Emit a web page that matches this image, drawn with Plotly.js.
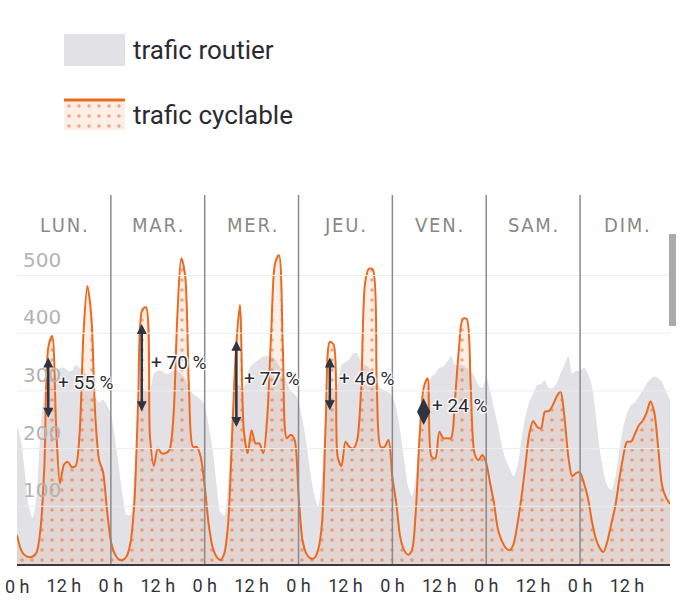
<!DOCTYPE html>
<html>
<head>
<meta charset="utf-8">
<script src="https://cdn.plot.ly/plotly-3.0.1.min.js"></script>
<style>
  html, body { margin: 0; padding: 0; background: #fff; }
  #chart { width: 680px; height: 613px; }
</style>
</head>
<body>
<div id="chart"></div>
<script>
// ---- Data ----
const dayNames = ['LUN.', 'MAR.', 'MER.', 'JEU.', 'VEN.', 'SAM.', 'DIM.'];
const hourTickVals = [0, 12, 24, 36, 48, 60, 72, 84, 96, 108, 120, 132, 144, 156];
const hourTickText = ['0 h', '12 h', '0 h', '12 h', '0 h', '12 h', '0 h', '12 h', '0 h', '12 h', '0 h', '12 h', '0 h', '12 h'];
const yTickVals = [100, 200, 300, 400, 500];
const yTickText = ['100', '200', '300', '400', '500'];

// trafic cyclable, hourly, one array per day
const bikeMon = [50, 25, 15, 12, 13, 20, 60, 170, 375, 395, 240, 140, 172, 177, 168, 170, 225, 400, 482, 430, 260, 180, 160, 95];
const bikeTue = [40, 18, 8, 7, 13, 36, 105, 284, 440, 445, 221, 170, 200, 192, 192, 198, 255, 429, 530, 500, 300, 203, 203, 185];
const bikeWed = [135, 70, 30, 13, 7, 18, 70, 220, 371, 449, 232, 192, 232, 209, 209, 192, 255, 400, 521, 535, 371, 218, 224, 215];
const bikeThu = [120, 42, 18, 10, 10, 24, 70, 255, 385, 380, 186, 170, 212, 203, 200, 215, 302, 486, 512, 510, 313, 203, 203, 215];
const bikeFri = [150, 105, 47, 24, 16, 24, 93, 226, 305, 322, 186, 183, 229, 218, 218, 218, 284, 371, 425, 425, 313, 192, 180, 189];
const bikeSat = [175, 140, 105, 60, 40, 28, 24, 35, 70, 115, 170, 225, 248, 238, 235, 264, 265, 275, 290, 299, 255, 186, 152, 158];
const bikeSun = [158, 140, 115, 75, 45, 28, 21, 40, 70, 100, 145, 185, 212, 212, 225, 240, 248, 262, 282, 262, 200, 135, 115, 104];

// trafic routier, hourly, one array per day
const roadMon = [240, 215, 160, 100, 80, 120, 230, 300, 320, 320, 330, 340, 340, 335, 335, 345, 340, 335, 325, 300, 290, 280, 285, 275];
const roadTue = [260, 220, 170, 120, 85, 85, 150, 260, 300, 300, 300, 330, 335, 335, 330, 330, 335, 335, 330, 320, 305, 295, 290, 285];
const roadWed = [275, 240, 200, 140, 90, 85, 140, 260, 310, 310, 305, 330, 345, 350, 355, 360, 360, 360, 355, 345, 330, 315, 300, 295];
const roadThu = [280, 250, 210, 160, 120, 100, 150, 260, 300, 300, 310, 345, 350, 355, 365, 365, 350, 345, 340, 325, 315, 305, 300, 298];
const roadFri = [290, 270, 230, 180, 135, 118, 150, 240, 290, 310, 325, 330, 340, 342, 350, 360, 345, 345, 345, 340, 335, 325, 310, 305];
const roadSat = [325, 300, 270, 240, 205, 180, 165, 152, 170, 215, 255, 280, 295, 310, 312, 318, 305, 305, 312, 330, 345, 360, 330, 335];
const roadSun = [335, 340, 330, 310, 260, 200, 160, 135, 128, 150, 195, 235, 260, 275, 280, 290, 300, 312, 320, 325, 322, 315, 298, 285];

// morning-peak comparison markers
const arrowHour = [8, 31.9, 56.1, 80];
const arrowLow = [251, 262, 235, 264];
const arrowHigh = [358, 416, 387, 358];
const diamondHour = [104];
const diamondValue = [264];
const labelText = ['+ 55 %', '+ 70 %', '+ 77 %', '+ 46 %', '+ 24 %'];
const labelHour = [10.0, 33.8, 57.6, 81.9, 105.7];
const labelValue = [314, 350, 322, 322, 274];

const legendRoad = 'trafic routier';
const legendBike = 'trafic cyclable';

// ---- Build ----
const bike = [].concat(bikeMon, bikeTue, bikeWed, bikeThu, bikeFri, bikeSat, bikeSun);
const road = [].concat(roadMon, roadTue, roadWed, roadThu, roadFri, roadSat, roadSun);
const hours = bike.map((_, i) => i);

const W = 680, H = 613;
const M = {l: 17, r: 10, t: 0, b: 49};
const plotW = W - M.l - M.r;       // 653
const plotH = H - M.t - M.b;       // 564
const axisTopPx = 195;             // top of the main plot area
const yDomTop = (plotH - axisTopPx) / plotH;
const px2x = px => (px - M.l) / plotW;
const px2y = py => (plotH - py) / plotH;

const orange = '#ec6a1f';
const dark = '#2e3440';
const halo = '1px 1px 1px #fff, -1px -1px 1px #fff, 1px -1px 1px #fff, -1px 1px 1px #fff, 0 0 3px #fff, 0 0 3px #fff';
const pattern = {
  shape: '.',
  bgcolor: 'rgba(236,106,31,0.11)',
  fgcolor: 'rgba(226,118,72,0.6)',
  size: 10,
  solidity: 0.1,
  fillmode: 'replace'
};

const traces = [
  {
    x: hours, y: road, type: 'scatter', mode: 'lines',
    line: {width: 0, color: 'rgba(0,0,0,0)', shape: 'spline', smoothing: 0.7},
    fill: 'tozeroy', fillcolor: '#e1e1e6', hoverinfo: 'skip', showlegend: false
  },
  {
    x: hours, y: bike, type: 'scatter', mode: 'lines',
    line: {width: 2, color: orange, shape: 'spline', smoothing: 0.8},
    fill: 'tozeroy', fillcolor: 'rgba(236,106,31,0.11)', fillpattern: pattern,
    hoverinfo: 'skip', showlegend: false
  },
  {
    x: diamondHour, y: diamondValue, type: 'scatter', mode: 'markers',
    marker: {symbol: 'diamond-tall', size: 19, color: dark, line: {width: 0}},
    hoverinfo: 'skip', showlegend: false
  },
  // legend swatch for the cycling area
  {
    x: [0, 1, 1, 0, 0], y: [0, 0, 1, 1, 0], xaxis: 'x2', yaxis: 'y2',
    type: 'scatter', mode: 'lines', line: {width: 0, color: 'rgba(0,0,0,0)'},
    fill: 'toself', fillcolor: 'rgba(236,106,31,0.11)', fillpattern: pattern,
    hoverinfo: 'skip', showlegend: false
  }
];

const shapes = [];
// light horizontal grid drawn over the areas
yTickVals.forEach(v => {
  shapes.push({
    type: 'line', xref: 'paper', yref: 'y', x0: 0, x1: 1, y0: v, y1: v,
    line: {color: '#ededed', width: 1}, layer: 'above'
  });
});
for (let d = 1; d < dayNames.length; d++) {
  shapes.push({
    type: 'line', xref: 'x', yref: 'paper', x0: d * 24, x1: d * 24, y0: 0, y1: yDomTop,
    line: {color: '#8a8a8a', width: 1.5}, layer: 'above'
  });
}
// legend: road swatch
shapes.push({
  type: 'rect', xref: 'paper', yref: 'paper',
  x0: px2x(64), x1: px2x(125), y0: px2y(66), y1: px2y(34),
  fillcolor: '#e1e1e6', line: {width: 0}
});
// legend: bike top line
shapes.push({
  type: 'line', xref: 'paper', yref: 'paper',
  x0: px2x(64), x1: px2x(125), y0: px2y(100), y1: px2y(100),
  line: {color: orange, width: 3}
});
// scroll thumb at right
shapes.push({
  type: 'rect', xref: 'paper', yref: 'paper',
  x0: px2x(669), x1: px2x(676), y0: px2y(326), y1: px2y(234),
  fillcolor: '#aaaaaa', line: {width: 0}
});

const annotations = [];
const spaced = s => s.split('').join('\u200A');
dayNames.forEach((name, d) => {
  annotations.push({
    x: d * 24 + 12, xref: 'x', y: px2y(225), yref: 'paper',
    text: spaced(name), showarrow: false, xanchor: 'center', yanchor: 'middle',
    font: {family: 'Liberation Sans Narrow, DejaVu Sans Condensed, Roboto, sans-serif', size: 20, color: '#888888'}
  });
});
arrowHour.forEach((h, i) => {
  annotations.push({
    x: h, y: arrowHigh[i], xref: 'x', yref: 'y',
    ax: h, ay: arrowLow[i], axref: 'x', ayref: 'y',
    text: '', showarrow: true, arrowside: 'end+start',
    arrowhead: 2, startarrowhead: 2, arrowsize: 0.8, startarrowsize: 0.8,
    arrowwidth: 2.5, arrowcolor: dark, standoff: 0, startstandoff: 0
  });
});
labelText.forEach((t, i) => {
  annotations.push({
    x: labelHour[i], y: labelValue[i], xref: 'x', yref: 'y',
    text: t, showarrow: false, xanchor: 'left', yanchor: 'middle',
    font: {family: 'Roboto, sans-serif', size: 19, color: '#2a2a33', shadow: halo}
  });
});
// first hour label (the axis hides the one at its left edge)
annotations.push({
  x: hourTickVals[0], xref: 'x', y: 0, yref: 'paper', yshift: -22,
  text: hourTickText[0], showarrow: false, xanchor: 'center', yanchor: 'middle',
  font: {family: 'Roboto, sans-serif', size: 18, color: '#33333a'}
});
annotations.push({
  x: px2x(131), y: px2y(50), xref: 'paper', yref: 'paper', text: legendRoad,
  showarrow: false, xanchor: 'left', yanchor: 'middle',
  font: {family: 'Roboto, sans-serif', size: 26, color: '#2a2a33'}
});
annotations.push({
  x: px2x(131), y: px2y(115), xref: 'paper', yref: 'paper', text: legendBike,
  showarrow: false, xanchor: 'left', yanchor: 'middle',
  font: {family: 'Roboto, sans-serif', size: 26, color: '#2a2a33'}
});

const layout = {
  width: W, height: H,
  margin: M,
  paper_bgcolor: '#ffffff', plot_bgcolor: '#ffffff',
  showlegend: false,
  xaxis: {
    domain: [0, 1], range: [0, 167], fixedrange: true,
    tickmode: 'array', tickvals: hourTickVals.slice(1), ticktext: hourTickText.slice(1),
    tickfont: {family: 'Roboto, sans-serif', size: 18, color: '#33333a'},
    ticklabelstandoff: 4,
    ticks: '', showgrid: false, zeroline: false,
    showline: true, linecolor: '#3a3a42', linewidth: 2
  },
  yaxis: {
    domain: [0, yDomTop], range: [0, (plotH - axisTopPx) / 0.577], fixedrange: true,
    tickmode: 'array', tickvals: yTickVals, ticktext: yTickText,
    ticklabelposition: 'inside', ticklabelshift: -16, ticklabelstandoff: 3,
    tickfont: {family: 'DejaVu Sans, sans-serif', size: 20, color: '#b3b3b3'},
    ticks: '', showgrid: false,
    zeroline: false, showline: false, layer: 'above traces'
  },
  xaxis2: {domain: [px2x(64), px2x(125)], anchor: 'y2', range: [0, 1], visible: false, fixedrange: true},
  yaxis2: {domain: [px2y(130), px2y(101)], anchor: 'x2', range: [0, 1], visible: false, fixedrange: true},
  shapes: shapes,
  annotations: annotations
};

Plotly.newPlot('chart', traces, layout, {staticPlot: true, displayModeBar: false});
</script>
</body>
</html>
